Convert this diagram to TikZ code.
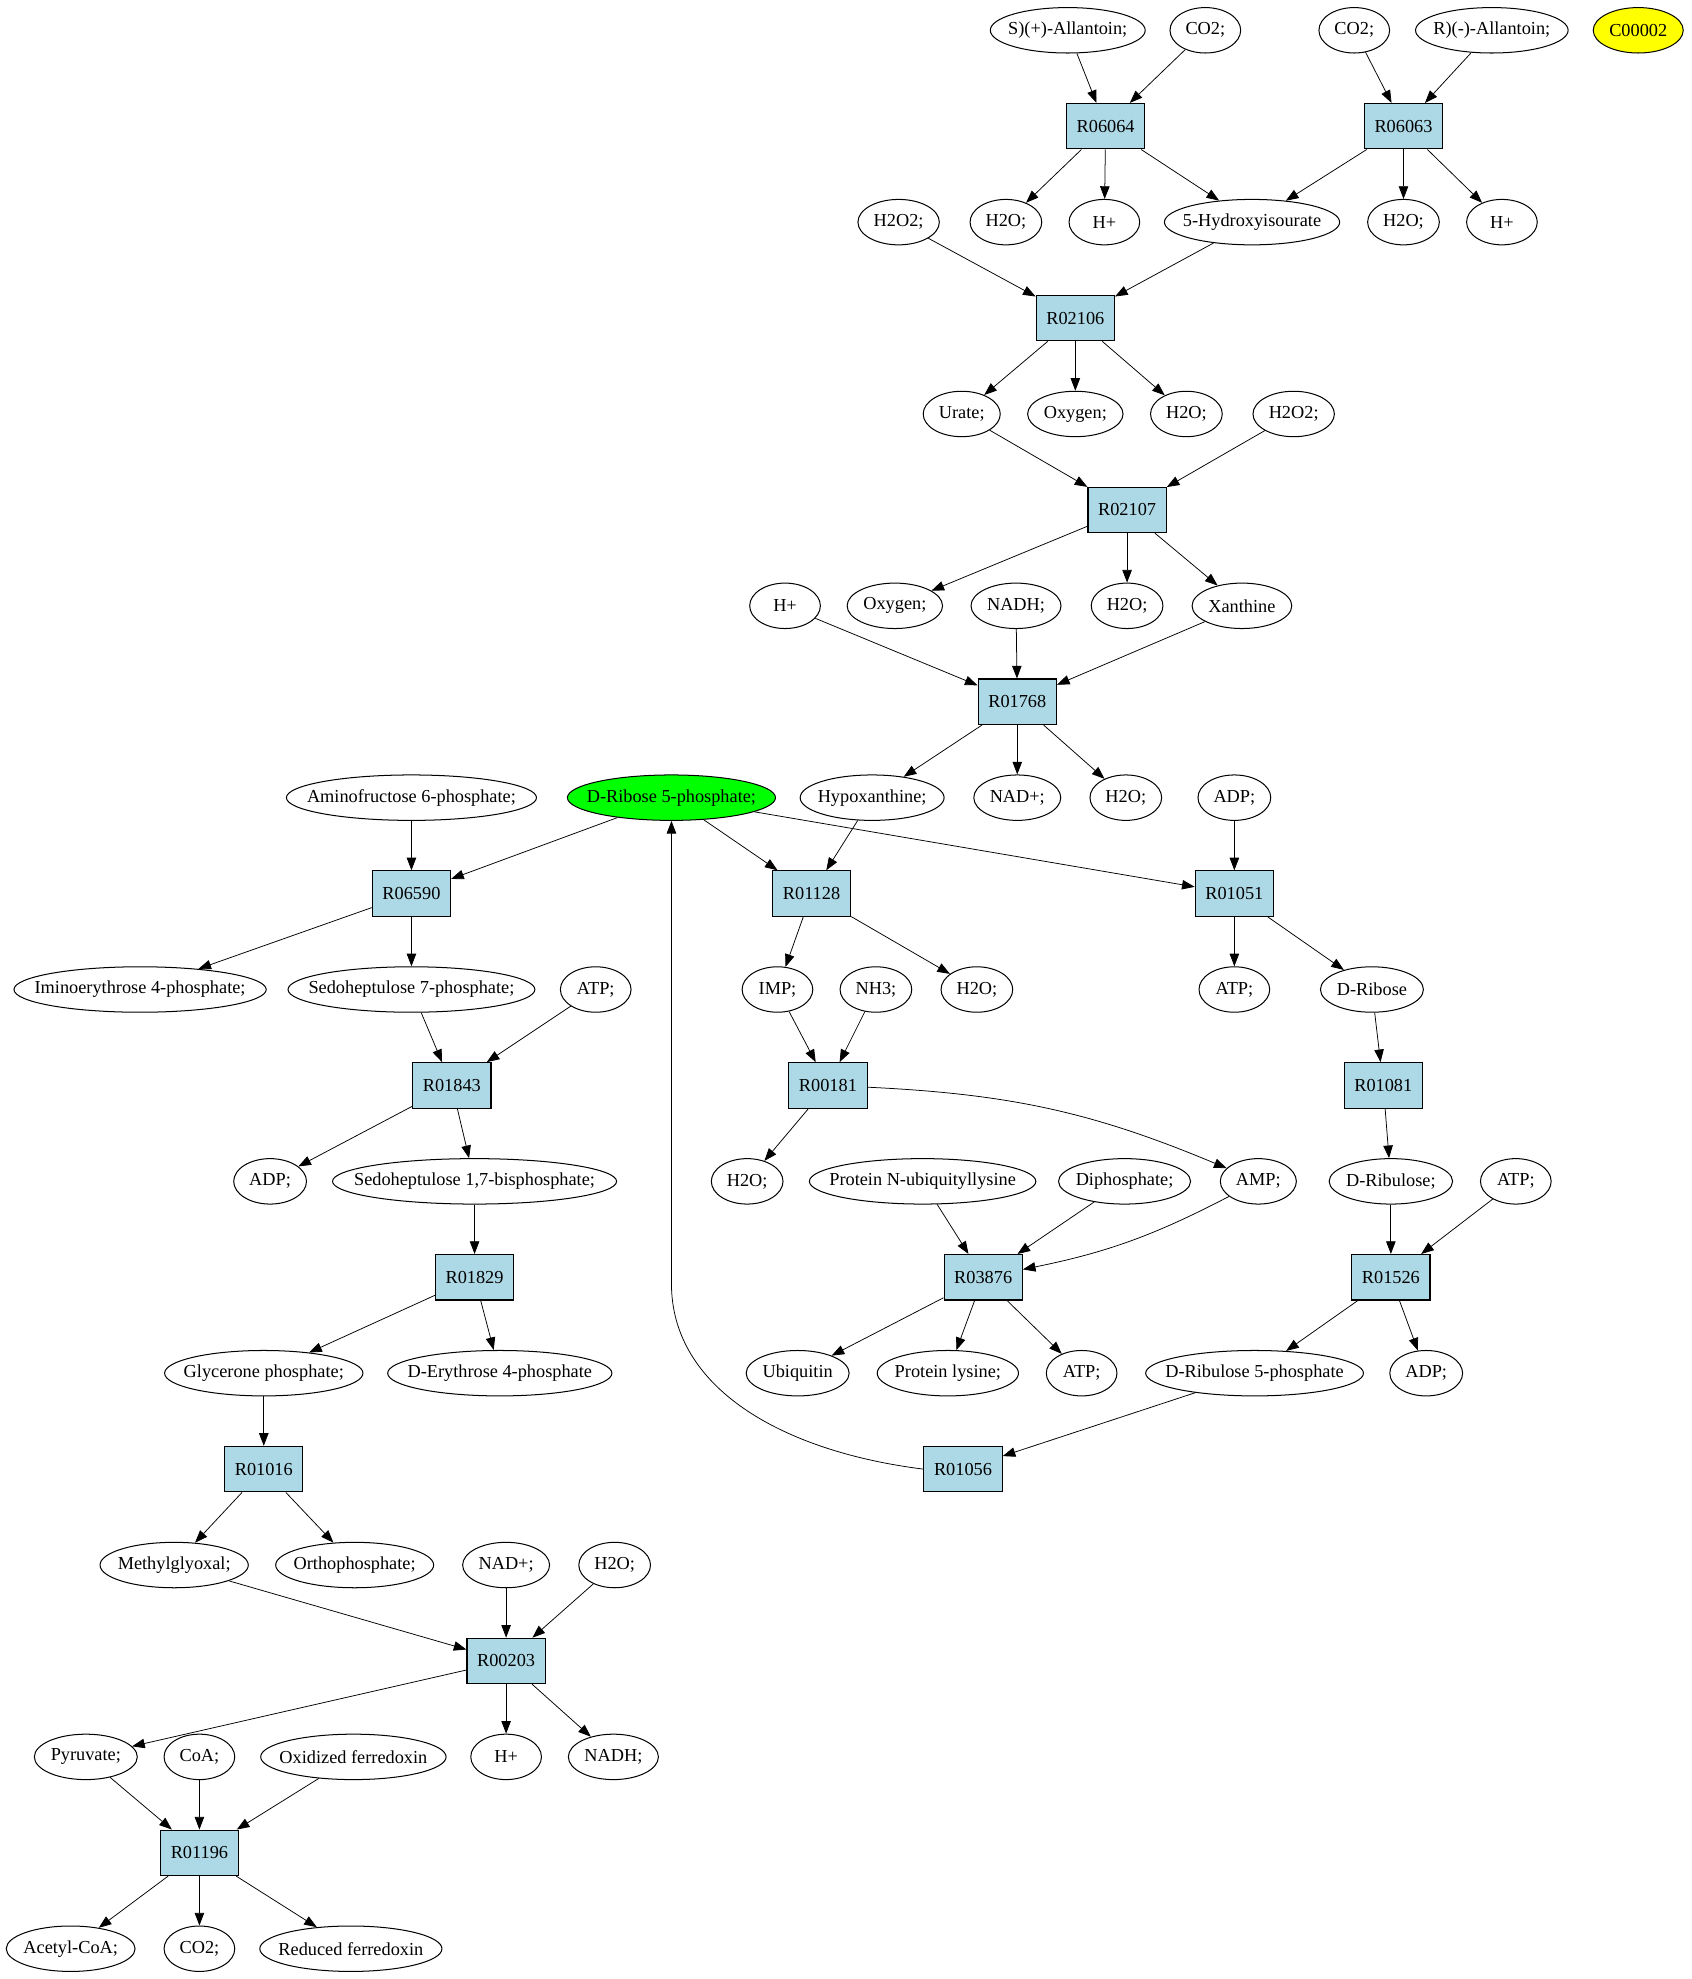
\documentclass[tikz,border=0pt]{standalone}
\usepackage{fontspec}
\setmainfont{Liberation Serif}
\usepackage{tikz}
\usetikzlibrary{shapes.geometric}
\usetikzlibrary{arrows.meta}
\definecolor{lightblue}{HTML}{ADD8E6}
\definecolor{cgreen}{HTML}{00FF00}
\definecolor{cyellow}{HTML}{FFFF00}
\tikzset{cpd/.style={draw,ellipse,line width=0.8pt,minimum width=56pt,minimum height=36pt,inner xsep=8pt,inner ysep=2pt},
rxn/.style={draw,rectangle,line width=0.9pt,fill=lightblue,minimum width=62pt,minimum height=36pt},
edge/.style={line width=0.6pt,-{Triangle[length=10pt,width=7.5pt]}}}
\newcommand{\nm}[1]{\makebox[0.75\width]{#1}}

\begin{document}
\begin{tikzpicture}[x=1pt,y=-1pt, every node/.style={font=\fontsize{14.5}{16}\selectfont}]
\fill[white] (0,0) rectangle (1340,1568);
% compounds
\node (allS) at (846,24) [cpd] {\nm{S)(+)-Allantoin;}};
\node (co2a) at (955,24) [cpd] {\nm{CO2;}};
\node (co2b) at (1073,24) [cpd] {\nm{CO2;}};
\node (allR) at (1182,24) [cpd] {\nm{R)(-)-Allantoin;}};
\node (c00002) at (1298,24) [cpd,fill=cyellow] {\nm{C00002}};

\node (h2o2a) at (712,176) [cpd] {\nm{H2O2;}};
\node (h2oa) at (797,176) [cpd] {\nm{H2O;}};
\node (hpa) at (875,176) [cpd] {\nm{H+}};
\node (hiu) at (992,176) [cpd] {\nm{5-Hydroxyisourate}};
\node (h2ob) at (1112,176) [cpd] {\nm{H2O;}};
\node (hpb) at (1190,176) [cpd] {\nm{H+}};

\node (urate) at (762,328) [cpd] {\nm{Urate;}};
\node (oxya) at (852,328) [cpd] {\nm{Oxygen;}};
\node (h2oc) at (940,328) [cpd] {\nm{H2O;}};
\node (h2o2b) at (1025,328) [cpd] {\nm{H2O2;}};

\node (hpc) at (622,480) [cpd] {\nm{H+}};
\node (oxyb) at (709,480) [cpd] {\nm{Oxygen;}};
\node (nadh) at (805,480) [cpd] {\nm{NADH;}};
\node (h2od) at (893,480) [cpd] {\nm{H2O;}};
\node (xan) at (984,480) [cpd] {\nm{Xanthine}};

\node (amf6p) at (326,632) [cpd] {\nm{Aminofructose 6-phosphate;}};
\node (dr5p) at (532,632) [cpd,fill=cgreen] {\nm{D-Ribose 5-phosphate;}};
\node (hyp) at (691,632) [cpd] {\nm{Hypoxanthine;}};
\node (nad) at (806,632) [cpd] {\nm{NAD+;}};
\node (h2oe) at (892,632) [cpd] {\nm{H2O;}};
\node (adpa) at (978,632) [cpd] {\nm{ADP;}};

\node (ie4p) at (111,784) [cpd] {\nm{Iminoerythrose 4-phosphate;}};
\node (s7p) at (326,784) [cpd] {\nm{Sedoheptulose 7-phosphate;}};
\node (atpa) at (472,784) [cpd] {\nm{ATP;}};
\node (imp) at (616,784) [cpd] {\nm{IMP;}};
\node (nh3) at (694,784) [cpd] {\nm{NH3;}};
\node (h2of) at (774,784) [cpd] {\nm{H2O;}};
\node (atpb) at (978,784) [cpd] {\nm{ATP;}};
\node (drib) at (1087,784) [cpd] {\nm{D-Ribose}};

\node (adpb) at (214,936) [cpd] {\nm{ADP;}};
\node (s17bp) at (376,936) [cpd] {\nm{Sedoheptulose 1,7-bisphosphate;}};
\node (h2og) at (592,936) [cpd] {\nm{H2O;}};
\node (pnub) at (731,936) [cpd] {\nm{Protein N-ubiquityllysine}};
\node (ppi) at (891,936) [cpd] {\nm{Diphosphate;}};
\node (amp) at (997,936) [cpd] {\nm{AMP;}};
\node (dru) at (1102,936) [cpd] {\nm{D-Ribulose;}};
\node (atpc) at (1201,936) [cpd] {\nm{ATP;}};

\node (gp) at (209,1088) [cpd] {\nm{Glycerone phosphate;}};
\node (de4p) at (396,1088) [cpd] {\nm{D-Erythrose 4-phosphate}};
\node (ubq) at (632,1088) [cpd] {\nm{Ubiquitin}};
\node (plys) at (751,1088) [cpd] {\nm{Protein lysine;}};
\node (atpd) at (857,1088) [cpd] {\nm{ATP;}};
\node (dru5p) at (994,1088) [cpd] {\nm{D-Ribulose 5-phosphate}};
\node (adpc) at (1130,1088) [cpd] {\nm{ADP;}};

\node (mgo) at (138,1240) [cpd] {\nm{Methylglyoxal;}};
\node (pi) at (281,1240) [cpd] {\nm{Orthophosphate;}};
\node (nadb) at (401,1240) [cpd] {\nm{NAD+;}};
\node (h2oh) at (487,1240) [cpd] {\nm{H2O;}};

\node (pyr) at (68,1392) [cpd] {\nm{Pyruvate;}};
\node (coa) at (158,1392) [cpd] {\nm{CoA;}};
\node (oxfd) at (280,1392) [cpd] {\nm{Oxidized ferredoxin}};
\node (hpd) at (401,1392) [cpd] {\nm{H+}};
\node (nadhb) at (486,1392) [cpd] {\nm{NADH;}};

\node (accoa) at (56,1544) [cpd] {\nm{Acetyl-CoA;}};
\node (co2c) at (158,1544) [cpd] {\nm{CO2;}};
\node (redfd) at (278,1544) [cpd] {\nm{Reduced ferredoxin}};

% reactions
\node (r06064) at (876,100) [rxn] {R06064};
\node (r06063) at (1112,100) [rxn] {R06063};
\node (r02106) at (852,252) [rxn] {R02106};
\node (r02107) at (893,404) [rxn] {R02107};
\node (r01768) at (806,556) [rxn] {R01768};
\node (r06590) at (326,708) [rxn] {R06590};
\node (r01128) at (643,708) [rxn] {R01128};
\node (r01051) at (978,708) [rxn] {R01051};
\node (r01843) at (358,860) [rxn] {R01843};
\node (r00181) at (656,860) [rxn] {R00181};
\node (r01081) at (1096,860) [rxn] {R01081};
\node (r01829) at (376,1012) [rxn] {R01829};
\node (r03876) at (779,1012) [rxn] {R03876};
\node (r01526) at (1102,1012) [rxn] {R01526};
\node (r01016) at (209,1164) [rxn] {R01016};
\node (r01056) at (763,1164) [rxn] {R01056};
\node (r00203) at (401,1316) [rxn] {R00203};
\node (r01196) at (158,1468) [rxn] {R01196};

\coordinate (up) at (532,1017);

% edges
\draw [edge] (allS) -- (r06064);
\draw [edge] (co2a) -- (r06064);
\draw [edge] (r06064) -- (h2oa);
\draw [edge] (r06064) -- (hpa);
\draw [edge] (r06064) -- (hiu);
\draw [edge] (co2b) -- (r06063);
\draw [edge] (allR) -- (r06063);
\draw [edge] (r06063) -- (hiu);
\draw [edge] (r06063) -- (h2ob);
\draw [edge] (r06063) -- (hpb);
\draw [edge] (h2o2a) -- (r02106);
\draw [edge] (hiu) -- (r02106);
\draw [edge] (r02106) -- (urate);
\draw [edge] (r02106) -- (oxya);
\draw [edge] (r02106) -- (h2oc);
\draw [edge] (urate) -- (r02107);
\draw [edge] (h2o2b) -- (r02107);
\draw [edge] (r02107) -- (oxyb);
\draw [edge] (r02107) -- (h2od);
\draw [edge] (r02107) -- (xan);
\draw [edge] (hpc) -- (r01768);
\draw [edge] (nadh) -- (r01768);
\draw [edge] (xan) -- (r01768);
\draw [edge] (r01768) -- (hyp);
\draw [edge] (r01768) -- (nad);
\draw [edge] (r01768) -- (h2oe);
\draw [edge] (amf6p) -- (r06590);
\draw [edge] (dr5p) -- (r06590);
\draw [edge] (r06590) -- (ie4p);
\draw [edge] (r06590) -- (s7p);
\draw [edge] (dr5p) -- (r01128);
\draw [edge] (hyp) -- (r01128);
\draw [edge] (r01128) -- (imp);
\draw [edge] (r01128) -- (h2of);
\draw [edge] (dr5p) -- (r01051);
\draw [edge] (adpa) -- (r01051);
\draw [edge] (r01051) -- (atpb);
\draw [edge] (r01051) -- (drib);
\draw [edge] (s7p) -- (r01843);
\draw [edge] (atpa) -- (r01843);
\draw [edge] (r01843) -- (adpb);
\draw [edge] (r01843) -- (s17bp);
\draw [edge] (imp) -- (r00181);
\draw [edge] (nh3) -- (r00181);
\draw [edge] (r00181) -- (h2og);
\draw [edge] (r00181) to[bend left=10] (amp);
\draw [edge] (drib) -- (r01081);
\draw [edge] (r01081) -- (dru);
\draw [edge] (s17bp) -- (r01829);
\draw [edge] (r01829) -- (gp);
\draw [edge] (r01829) -- (de4p);
\draw [edge] (pnub) -- (r03876);
\draw [edge] (ppi) -- (r03876);
\draw [edge] (amp) to[bend left=8] (r03876);
\draw [edge] (r03876) -- (ubq);
\draw [edge] (r03876) -- (plys);
\draw [edge] (r03876) -- (atpd);
\draw [edge] (dru) -- (r01526);
\draw [edge] (atpc) -- (r01526);
\draw [edge] (r01526) -- (dru5p);
\draw [edge] (r01526) -- (adpc);
\draw [edge] (dru5p) -- (r01056);
\draw [edge] (r01056.west) .. controls (620,1150) and (532,1100) .. (up) -- (dr5p.south);
\draw [edge] (gp) -- (r01016);
\draw [edge] (r01016) -- (mgo);
\draw [edge] (r01016) -- (pi);
\draw [edge] (mgo) -- (r00203);
\draw [edge] (nadb) -- (r00203);
\draw [edge] (h2oh) -- (r00203);
\draw [edge] (r00203) -- (pyr);
\draw [edge] (r00203) -- (hpd);
\draw [edge] (r00203) -- (nadhb);
\draw [edge] (pyr) -- (r01196);
\draw [edge] (coa) -- (r01196);
\draw [edge] (oxfd) -- (r01196);
\draw [edge] (r01196) -- (accoa);
\draw [edge] (r01196) -- (co2c);
\draw [edge] (r01196) -- (redfd);
\end{tikzpicture}
\end{document}
